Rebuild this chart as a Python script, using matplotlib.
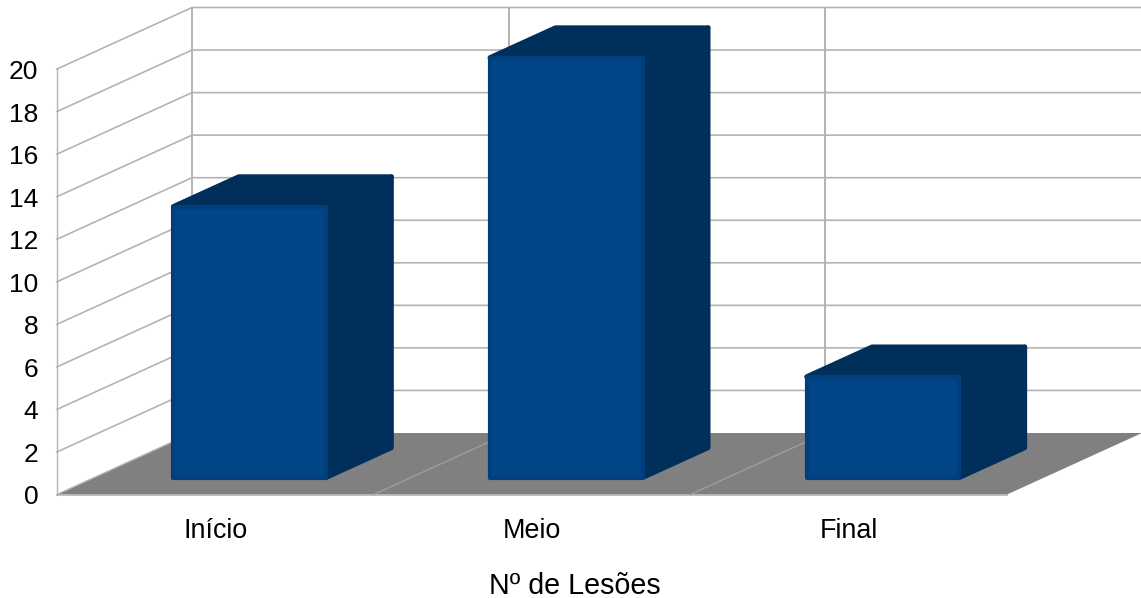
import matplotlib.pyplot as plt
from matplotlib.patches import Polygon

plt.rcParams['font.family'] = ['Liberation Sans', 'DejaVu Sans']

categories = ["Início", "Meio", "Final"]
values = [13, 20, 5]
y_ticks = [0, 2, 4, 6, 8, 10, 12, 14, 16, 18, 20]
x_title = "Nº de Lesões"

FACE = "#004586"
FACE_EDGE = "#003f7b"
DARK = "#002f5c"
GRID = "#b3b3b3"
FLOOR = "#808080"

W, H = 1141, 598
# pixels per category and per value unit on the front plane
CAT_PX = 950 / 3
VAL_PX = 425.5 / 20
# offset of the back wall, in data units
DEPTH_X = 135 / CAT_PX
DEPTH_Y = 61.5 / VAL_PX


def proj(cat, val, depth=0.0):
    return cat + depth * DEPTH_X, val + depth * DEPTH_Y


fig = plt.figure(figsize=(W / 100, H / 100), dpi=100)
ax = fig.add_axes([0, 0, 1, 1])
ax.set_xlim(-57 / CAT_PX, (W - 57) / CAT_PX)
ax.set_ylim((494.5 - H) / VAL_PX, 494.5 / VAL_PX)
ax.axis("off")

n = len(categories)

# floor
floor = [proj(0, 0), proj(n, 0), proj(n, 0, 1), proj(0, 0, 1)]
ax.add_patch(Polygon(floor, closed=True, fc=FLOOR, ec="none", zorder=1))
ax.plot(*zip(proj(0, 0), proj(n, 0)), color=GRID, lw=1.2, zorder=2)

# walls and grid
for t in y_ticks[1:]:
    a, b, c = proj(0, t), proj(0, t, 1), proj(n, t, 1)
    ax.plot([a[0], b[0], c[0]], [a[1], b[1], c[1]], color=GRID, lw=1.2, zorder=2)
a, b = proj(0, 0), proj(0, y_ticks[-1])
ax.plot([a[0], b[0]], [a[1], b[1]], color=GRID, lw=1.0, zorder=2)
for i in range(n):
    a, b = proj(i, 0), proj(i, 0, 1)
    if i > 0:
        ax.plot([a[0], b[0]], [a[1], b[1]], color="#a0a0a0", lw=0.9, zorder=2)
    a, b = proj(i, 0, 1), proj(i, y_ticks[-1], 1)
    ax.plot([a[0], b[0]], [a[1], b[1]], color=GRID, lw=1.4, zorder=2)
a, b = proj(0, 0), proj(0, 0, 1)
ax.plot([a[0], b[0]], [a[1], b[1]], color=GRID, lw=1.0, zorder=2)

# 3d bars
bar_left = 0.25
bar_width = 0.482
front = 0.275
back = 0.76
top_inset = 0.26
for i, v in enumerate(values):
    x0 = i + bar_left
    x1 = x0 + bar_width
    top = v - top_inset
    side = [proj(x1, 0, front), proj(x1, 0, back), proj(x1, top, back), proj(x1, top, front)]
    cap = [proj(x0, top, front), proj(x1, top, front), proj(x1, top, back), proj(x0, top, back)]
    face = [proj(x0, 0, front), proj(x1, 0, front), proj(x1, top, front), proj(x0, top, front)]
    ax.add_patch(Polygon(side, closed=True, fc=DARK, ec=DARK, lw=3.5, joinstyle="round", zorder=3))
    ax.add_patch(Polygon(cap, closed=True, fc=DARK, ec=DARK, lw=3.5, joinstyle="round", zorder=3))
    ax.add_patch(Polygon(face, closed=True, fc=FACE, ec=FACE_EDGE, lw=3, joinstyle="round", zorder=4))

# labels
for t in y_ticks:
    ax.text(-18.5 / CAT_PX, t - 3 / VAL_PX, str(t), ha="right", va="center", fontsize=19, color="black")
for i, c in enumerate(categories):
    ax.text(i + 0.5, -36.5 / VAL_PX, c, ha="center", va="center", fontsize=19.4, color="black")
ax.text(518 / CAT_PX, -91.5 / VAL_PX, x_title, ha="center", va="center", fontsize=20.6, color="black")

fig.savefig("out.png", dpi=100)
